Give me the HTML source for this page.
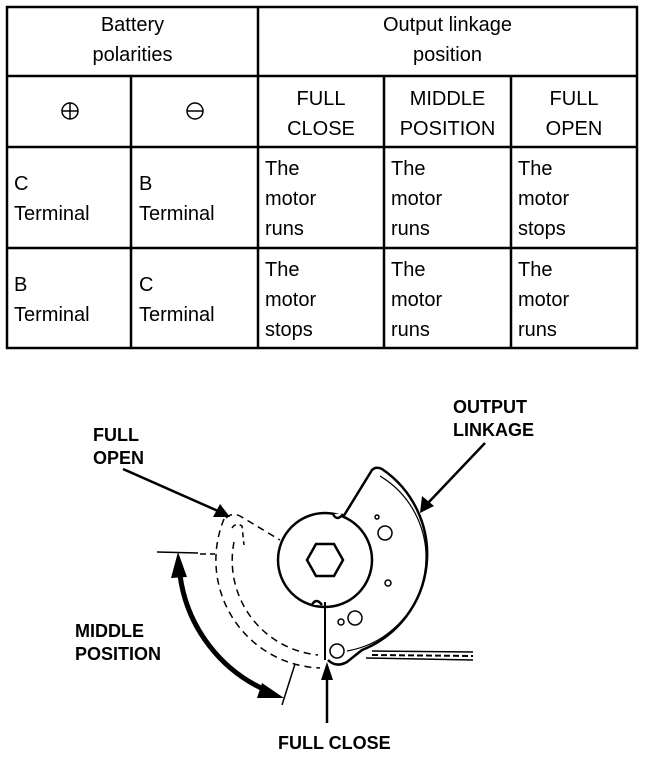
<!DOCTYPE html>
<html><head><meta charset="utf-8"><style>
html,body{margin:0;padding:0;background:#fff;}
body{width:656px;height:758px;position:relative;overflow:hidden;font-family:"Liberation Sans",Arial,sans-serif;}
.t{position:absolute;font-size:20px;line-height:30px;color:#000;}
.c{text-align:center;}
.b{position:absolute;font-weight:bold;font-size:18px;line-height:23px;font-family:"Liberation Sans",Arial,sans-serif;}
</style></head><body>
<svg width="656" height="758" style="position:absolute;left:0;top:0" xmlns="http://www.w3.org/2000/svg">
<g stroke="#000" stroke-width="2.5" fill="none">
<rect x="7" y="7" width="630" height="341"/>
<line x1="7" y1="76" x2="637" y2="76"/>
<line x1="7" y1="147" x2="637" y2="147"/>
<line x1="7" y1="248" x2="637" y2="248"/>
<line x1="258" y1="7" x2="258" y2="348"/>
<line x1="131" y1="76" x2="131" y2="348"/>
<line x1="384" y1="76" x2="384" y2="348"/>
<line x1="511" y1="76" x2="511" y2="348"/>
</g>
<g stroke="#000" stroke-width="1.5" fill="none">
<circle cx="70" cy="111" r="8"/><line x1="62" y1="111" x2="78" y2="111"/><line x1="70" y1="103" x2="70" y2="119"/>
<circle cx="195" cy="111" r="8"/><line x1="187" y1="111" x2="203" y2="111"/>
</g>
<g stroke="#000" fill="none">
<path d="M224,519 A108,108 0 0 0 320,668" stroke-width="1.5" stroke-dasharray="7,5"/>
<path d="M234,542 A95,95 0 0 0 318,655" stroke-width="1.5" stroke-dasharray="7,5"/>
<path d="M226,518 Q232,512 240,516 L280,540" stroke-width="1.5" stroke-dasharray="7,5"/>
<path d="M232,528 Q236,522 242,526 L244,545" stroke-width="1.5" stroke-dasharray="5,4"/>
<path d="M340,522 L372,470 Q376,466 382,469 A103,103 0 0 1 362,650 Q352,658 347,662 Q336,668 328,660" stroke-width="2.5" fill="#fff"/>
<path d="M380,476 A95,95 0 0 1 347,651" stroke-width="1.2"/>
<circle cx="325" cy="560" r="47" stroke-width="2.5" fill="#fff"/>
<path d="M333,514 q4,8 10,0" stroke-width="2.5" fill="#fff"/>
<path d="M312,605 q4,-8 10,0" stroke-width="2.5" fill="#fff"/>
<polygon points="307,560 316,544 334,544 343,560 334,576 316,576" stroke-width="2.5" fill="#fff"/>
<circle cx="377" cy="517" r="2" stroke-width="1.5"/>
<circle cx="385" cy="533" r="7" stroke-width="1.5"/>
<circle cx="388" cy="583" r="3" stroke-width="1.5"/>
<circle cx="355" cy="618" r="7" stroke-width="1.5"/>
<circle cx="341" cy="622" r="3" stroke-width="1.5"/>
<circle cx="337" cy="651" r="7" stroke-width="1.5" fill="#fff"/>
<line x1="325" y1="602" x2="325" y2="660" stroke-width="2"/>
<path d="M372,651 L473,652 M366,658 L473,660" stroke-width="1.5"/>
<path d="M372,655 L473,656" stroke-width="2" stroke-dasharray="6,3"/>
<line x1="157" y1="552" x2="198" y2="553" stroke-width="1.5"/>
<line x1="200" y1="554" x2="215" y2="554" stroke-width="1.5" stroke-dasharray="6,4"/>
<line x1="295" y1="664" x2="282" y2="705" stroke-width="1.5"/>
<path d="M180,575 A147,147 0 0 0 270,692" stroke-width="5"/>
<line x1="123" y1="469" x2="218" y2="511" stroke-width="2.5"/>
<line x1="485" y1="443" x2="428" y2="503" stroke-width="2.5"/>
<line x1="327" y1="723" x2="327" y2="675" stroke-width="2.5"/>
</g>
<g fill="#000">
<polygon points="230,517 213,517 220,504"/>
<polygon points="420,513 422,496 434,506"/>
<polygon points="327,662 321,680 333,680"/>
<polygon points="178,552 171,578 187,577"/>
<polygon points="284,698 262,683 257,698"/>
</g>
</svg>
<div class="t c" style="left:7px;top:10px;width:251px;">Battery<br>polarities</div>
<div class="t c" style="left:258px;top:10px;width:379px;">Output linkage<br>position</div>
<div class="t c" style="left:258px;top:84px;width:126px;">FULL<br>CLOSE</div>
<div class="t c" style="left:384px;top:84px;width:127px;">MIDDLE<br>POSITION</div>
<div class="t c" style="left:511px;top:84px;width:126px;">FULL<br>OPEN</div>
<div class="t" style="left:14px;top:169px;">C<br>Terminal</div>
<div class="t" style="left:139px;top:169px;">B<br>Terminal</div>
<div class="t" style="left:265px;top:154px;">The<br>motor<br>runs</div>
<div class="t" style="left:391px;top:154px;">The<br>motor<br>runs</div>
<div class="t" style="left:518px;top:154px;">The<br>motor<br>stops</div>
<div class="t" style="left:14px;top:270px;">B<br>Terminal</div>
<div class="t" style="left:139px;top:270px;">C<br>Terminal</div>
<div class="t" style="left:265px;top:255px;">The<br>motor<br>stops</div>
<div class="t" style="left:391px;top:255px;">The<br>motor<br>runs</div>
<div class="t" style="left:518px;top:255px;">The<br>motor<br>runs</div>
<div class="b" style="left:453px;top:396px;">OUTPUT<br>LINKAGE</div>
<div class="b" style="left:93px;top:424px;">FULL<br>OPEN</div>
<div class="b" style="left:75px;top:620px;">MIDDLE<br>POSITION</div>
<div class="b" style="left:278px;top:732px;">FULL CLOSE</div>
</body></html>
